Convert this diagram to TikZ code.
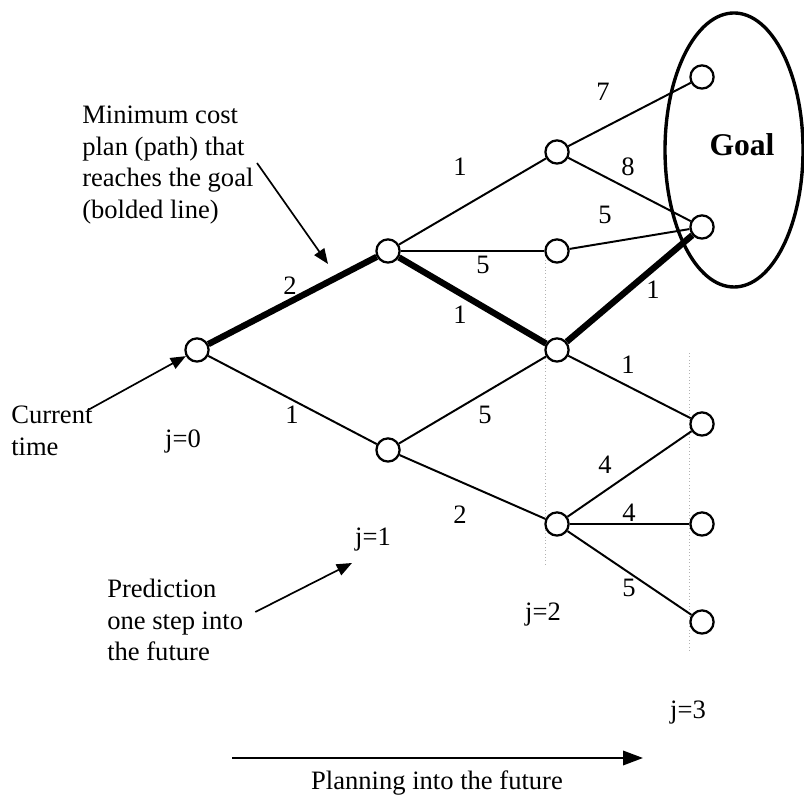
\documentclass[tikz,border=0pt]{standalone}
\usepackage{fontspec}
\setmainfont{Liberation Serif}
\usetikzlibrary{arrows.meta}
\tikzset{
  stnode/.style={circle,draw=black,fill=white,line width=1.6pt,minimum size=5.8mm,inner sep=0pt}, % state
  link/.style={black,line width=1.4pt},
  best/.style={black,line width=4.5pt},
  cost/.style={inner sep=1pt,font=\fontsize{18.9}{22.7}\selectfont},
  note/.style={align=left,inner sep=0pt,font=\fontsize{18.9}{22.7}\selectfont},
  pointer/.style={-{Triangle[length=3.8mm,width=3mm]},line width=1.2pt},
  guide/.style={gray!60,dotted,thin},
  goalset/.style={line width=2.4pt},
}
\begin{document}
\begin{tikzpicture}
  \useasboundingbox (0,0) rectangle (20.1,19.9);
  % faint column guides
  \draw[guide] (13.625,13.4) -- (13.625,5.725);
  \draw[guide] (17.225,11.075) -- (17.225,3.65);
  % goal region
  \draw[goalset] (18.35,16.15) ellipse [x radius=1.725, y radius=3.425];
  \node[font=\fontsize{22.5}{27}\selectfont\bfseries] (goal) at (18.55,16.275) {Goal};
  % states
  \node[stnode] (s0) at (4.925,11.15) {};
  \node[stnode] (s1a) at (9.7,13.625) {};
  \node[stnode] (s1b) at (9.7,8.65) {};
  \node[stnode] (s2a) at (13.925,16.1) {};
  \node[stnode] (s2b) at (13.925,13.625) {};
  \node[stnode] (s2c) at (13.925,11.15) {};
  \node[stnode] (s2d) at (13.925,6.8) {};
  \node[stnode] (g1) at (17.55,17.975) {};
  \node[stnode] (g2) at (17.55,14.225) {};
  \node[stnode] (s3a) at (17.55,9.3) {};
  \node[stnode] (s3b) at (17.55,6.8) {};
  \node[stnode] (s3c) at (17.55,4.35) {};
  % transitions
  \draw[link] (s0) -- (s1b);
  \draw[link] (s1a) -- (s2a);
  \draw[link] (s1a) -- (s2b);
  \draw[link] (s1b) -- (s2c);
  \draw[link] (s1b) -- (s2d);
  \draw[link] (s2a) -- (g1);
  \draw[link] (s2a) -- (g2);
  \draw[link] (s2b) -- (g2);
  \draw[link] (s2c) -- (s3a);
  \draw[link] (s2d) -- (s3a);
  \draw[link] (s2d) -- (s3b);
  \draw[link] (s2d) -- (s3c);
  % minimum cost plan
  \draw[best] (s0) -- (s1a);
  \draw[best] (s1a) -- (s2c);
  \draw[best] (s2c) -- (g2);
  % costs
  \node[cost] (c01a) at (7.25,12.75) {2};
  \node[cost] (c01b) at (7.3,9.525) {1};
  \node[cost] (c1a2a) at (11.5,15.725) {1};
  \node[cost] (c1a2b) at (12.075,13.275) {5};
  \node[cost] (c1a2c) at (11.5,12.025) {1};
  \node[cost] (c1b2c) at (12.125,9.525) {5};
  \node[cost] (c1b2d) at (11.5,7.025) {2};
  \node[cost] (c2ag1) at (15.075,17.6) {7};
  \node[cost] (c2ag2) at (15.7,15.725) {8};
  \node[cost] (c2bg2) at (15.125,14.525) {5};
  \node[cost] (c2cg2) at (16.325,12.65) {1};
  \node[cost] (c2c3a) at (15.7,10.775) {1};
  \node[cost] (c2d3a) at (15.125,8.275) {4};
  \node[cost] (c2d3b) at (15.725,7.075) {4};
  \node[cost] (c2d3c) at (15.725,5.2) {5};
  % stage labels
  \node[cost] (j0) at (4.575,8.85) {j=0};
  \node[cost] (j1) at (9.325,6.4) {j=1};
  \node[cost] (j2) at (13.575,4.525) {j=2};
  \node[cost] (j3) at (17.2,2.075) {j=3};
  % notes
  \node[note,anchor=west] (mincost) at (2.05,15.775) {Minimum cost\\plan (path) that\\reaches the goal\\(bolded line)};
  \coordinate (mctip) at (8.2,13.3);
  \draw[pointer] (6.425,15.825) -- (mctip);
  \node[note,anchor=west] (curr) at (0.275,9.125) {Current\\time};
  \coordinate (ctail) at (2.2,9.65);
  \draw[pointer] (ctail) -- (s0);
  \node[note,anchor=west] (pred) at (2.675,4.4) {Prediction\\one step into\\the future};
  \coordinate (ptip) at (8.8,5.825);
  \draw[pointer] (pred.east) ++(0.3,0.2) -- (ptip);
  % planning horizon
  \coordinate (hstart) at (5.8,0.95);
  \coordinate (hend) at (16.075,0.95);
  \draw[-{Triangle[length=5mm,width=3.6mm]},line width=1.6pt] (hstart) -- (hend);
  \node[cost] (horizon) at (10.925,0.325) {Planning into the future};
\end{tikzpicture}
\end{document}
